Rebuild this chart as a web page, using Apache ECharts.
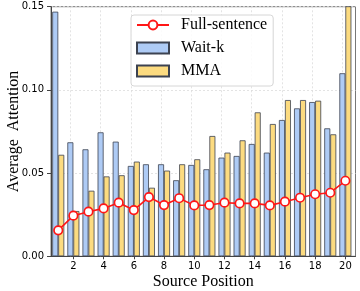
<!DOCTYPE html>
<html>
<head>
<meta charset="utf-8">
<script src="https://cdn.jsdelivr.net/npm/echarts@6/dist/echarts.min.js"></script>
<style>html,body{margin:0;padding:0;background:#fff}#c{width:360px;height:291px}</style>
</head>
<body>
<div id="c"></div>
<script>
var positions = [1,2,3,4,5,6,7,8,9,10,11,12,13,14,15,16,17,18,19,20];
var xTickValues = [2,4,6,8,10,12,14,16,18,20];
var fullSentence = [0.0156,0.0244,0.0268,0.0288,0.0322,0.0278,0.0356,0.0308,0.0349,0.0306,0.0308,0.0322,0.0318,0.0318,0.0306,0.0328,0.0352,0.0373,0.0382,0.0454];
var waitK = [0.147,0.0685,0.0643,0.0745,0.0689,0.0543,0.0553,0.0553,0.0457,0.0549,0.0523,0.0593,0.0603,0.0675,0.0623,0.0819,0.0889,0.0927,0.0769,0.110];
var mma = [0.061,0.0272,0.0394,0.048,0.0487,0.0569,0.0412,0.0515,0.0553,0.0583,0.0723,0.0623,0.0697,0.0865,0.0795,0.0939,0.0939,0.0935,0.0733,0.165];

function pairs(vals){ return positions.map(function(p,i){ return [p, vals[i]]; }); }

var serif = '"Liberation Serif", "DejaVu Serif", serif';
var sans = '"DejaVu Sans", sans-serif';
var gridLineStyle = {color: '#dcdcdc', type: [2,2], width: 0.8};
var chart = echarts.init(document.getElementById('c'), null, {renderer:'canvas'});
chart.setOption({
  animation: false,
  grid: {left: 51, right: 4.5, top: 6.7, bottom: 34.7, outerBoundsMode: 'none', containLabel: false,
         show: true, borderColor: '#777', borderWidth: 1, backgroundColor: 'transparent'},
  legend: {
    left: 131, top: 15,
    orient: 'vertical',
    data: [{name: 'Full-sentence'}, {name: 'Wait-k', icon: 'rect'}, {name: 'MMA', icon: 'rect'}],
    itemWidth: 32, itemHeight: 11, itemGap: 7,
    padding: [2, 6, 7, 5],
    backgroundColor: 'rgba(255,255,255,0.85)',
    borderColor: '#d6d6d6', borderWidth: 1, borderRadius: 3,
    textStyle: {fontFamily: serif, fontSize: 16, color: '#000', lineHeight: 16, padding: [0,0,0,7]}
  },
  xAxis: {
    type: 'value', min: 0.52, max: 20.67,
    name: 'Source Position', nameLocation: 'middle', nameGap: 17, nameMoveOverlap: false,
    nameTextStyle: {fontFamily: serif, fontSize: 16, color: '#000'},
    axisLine: {show: true, lineStyle: {color: '#444', width: 1}},
    axisTick: {show: true, length: 3, lineStyle: {color: '#444'}, customValues: xTickValues},
    axisLabel: {fontFamily: sans, fontSize: 10, color: '#000', margin: 5, customValues: xTickValues},
    splitLine: {show: false}
  },
  yAxis: {
    type: 'value', min: 0, max: 0.15, interval: 0.05,
    name: 'Average  Attention', nameLocation: 'middle', nameGap: 29, nameMoveOverlap: false,
    nameTextStyle: {fontFamily: serif, fontSize: 16, color: '#000'},
    axisLine: {show: true, lineStyle: {color: '#444', width: 1}},
    axisTick: {show: true, length: 4, lineStyle: {color: '#444'}},
    axisLabel: {fontFamily: sans, fontSize: 10, color: '#000', margin: 7, formatter: function(v){ return v.toFixed(2); }},
    splitLine: {show: true, lineStyle: gridLineStyle}
  },
  series: [
    {
      name: 'Full-sentence', type: 'line', data: pairs(fullSentence), z: 5,
      symbol: 'circle', symbolSize: 8.5,
      lineStyle: {color: '#ff1616', width: 1.6},
      itemStyle: {color: '#fff', borderColor: '#ff1616', borderWidth: 1.7}
    },
    {
      name: 'Wait-k', type: 'bar', data: pairs(waitK), barWidth: 6, barGap: '0%',
      itemStyle: {color: '#aecbf5', borderColor: '#3c4250', borderWidth: 0.8},
      markLine: {silent: true, z: 1, symbol: 'none', label: {show: false}, lineStyle: gridLineStyle,
                 emphasis: {disabled: true},
                 data: xTickValues.map(function(v){ return {xAxis: v}; })}
    },
    {
      name: 'MMA', type: 'bar', data: pairs(mma), barWidth: 6, barGap: '0%',
      itemStyle: {color: '#fcdb80', borderColor: '#3c4250', borderWidth: 0.8}
    }
  ]
});
</script>
</body>
</html>
